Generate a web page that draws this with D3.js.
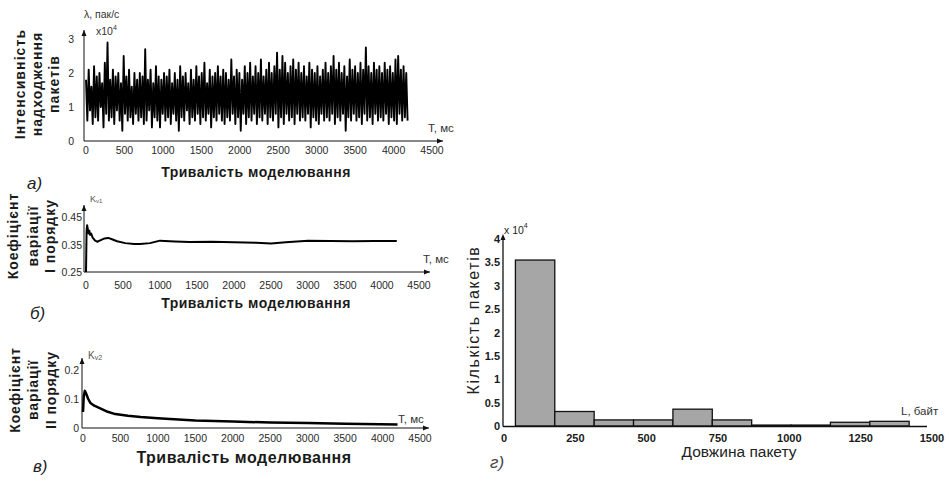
<!DOCTYPE html>
<html>
<head>
<meta charset="utf-8">
<script src="https://cdn.jsdelivr.net/npm/d3@7/dist/d3.min.js"></script>
<style>
  html, body { margin: 0; padding: 0; background: #fff; }
  svg { display: block; font-family: "Liberation Sans", Arial, sans-serif; }
</style>
</head>
<body>
<svg id="chart" width="949" height="483"></svg>
<script>
// ---------------- DATA ----------------
// (a) packet arrival intensity, x10^4 packets/s, sampled every 17.5 ms (0 .. 4200 ms)
const intensityStepMs = 17.5;
const intensity = [
  1.8,0.6,2.1,0.9,1.6,0.5,2.2,0.7,1.9,0.6,2.0,1.0,1.7,0.4,2.3,0.8,2.9,0.6,1.8,0.7,
  2.1,0.5,1.9,0.9,2.0,0.6,1.7,0.3,2.5,0.8,1.9,0.6,2.1,0.7,1.6,0.5,2.0,0.8,1.8,0.6,
  2.0,0.7,1.9,0.5,2.7,0.6,1.8,0.9,2.1,0.4,1.7,0.7,2.2,0.6,1.9,0.4,1.8,0.8,2.0,0.6,
  1.9,0.7,2.1,0.5,1.7,0.8,2.0,0.6,1.8,0.3,2.2,0.7,1.9,0.6,2.0,0.9,1.7,0.5,2.1,0.7,
  1.8,0.6,2.2,0.8,1.9,0.5,2.0,0.7,2.3,0.6,1.7,0.8,2.1,0.4,1.9,0.7,2.0,0.6,2.2,0.8,
  1.9,0.6,2.1,0.5,2.0,0.7,1.8,0.6,2.4,0.8,1.9,0.5,2.1,0.7,2.0,0.3,1.8,0.8,2.2,0.5,
  2.0,0.7,2.3,0.6,1.9,0.8,2.2,0.5,2.0,0.7,2.4,0.6,1.9,0.8,2.1,0.5,2.3,0.7,2.0,0.6,
  2.2,0.8,2.6,0.4,2.1,0.7,2.5,0.5,2.3,0.8,2.0,0.6,2.2,0.7,2.4,0.5,2.1,0.8,2.3,0.6,
  2.0,0.7,2.2,0.6,1.9,0.8,2.3,0.4,2.1,0.7,2.0,0.6,2.2,0.5,1.9,0.8,2.1,0.6,2.3,0.7,
  2.0,0.6,2.2,0.8,2.5,0.5,2.1,0.7,2.3,0.6,2.0,0.8,2.2,0.3,1.9,0.7,2.4,0.6,2.1,0.8,
  2.2,0.6,2.0,0.7,2.3,0.5,2.1,0.8,2.75,0.6,2.2,0.7,2.0,0.5,2.3,0.8,2.1,0.6,2.2,0.7,
  2.0,0.6,2.3,0.8,2.1,0.5,2.2,0.7,2.0,0.6,2.4,0.5,2.5,0.8,2.1,0.6,2.2,0.7,2.0,0.6
];
const intensityYTicks = [0, 1, 2, 3];

// (b) coefficient of variation, 1st order
const kv1Time = [0, 8, 15, 25, 35, 45, 55, 70, 90, 120, 150, 200, 250, 300, 360, 420, 530, 650, 730, 865, 1000, 1200, 1400, 1700, 2000, 2300, 2500, 2700, 3000, 3300, 3600, 3900, 4200];
const kv1Vals = [0.25, 0.40, 0.42, 0.405, 0.39, 0.40, 0.385, 0.39, 0.375, 0.365, 0.36, 0.366, 0.372, 0.374, 0.368, 0.362, 0.355, 0.352, 0.352, 0.355, 0.364, 0.361, 0.359, 0.36, 0.358, 0.356, 0.354, 0.358, 0.364, 0.363, 0.362, 0.363, 0.363];
const kv1YTicks = [0.25, 0.35, 0.45];

// (c) coefficient of variation, 2nd order
const kv2Time = [0, 10, 25, 40, 70, 100, 150, 230, 330, 430, 600, 770, 1000, 1160, 1500, 2000, 2500, 3000, 3500, 4200];
const kv2Vals = [0.055, 0.11, 0.128, 0.12, 0.1, 0.086, 0.077, 0.068, 0.056, 0.048, 0.042, 0.038, 0.034, 0.031, 0.026, 0.022, 0.019, 0.017, 0.015, 0.012];
const kv2YTicks = [0, 0.1, 0.2];

const timeTicks = [0, 500, 1000, 1500, 2000, 2500, 3000, 3500, 4000, 4500];

// (d) histogram of packet length, counts x10^4
const binEdges = [40, 178, 316, 454, 592, 730, 868, 1006, 1144, 1282, 1420];
const binCounts = [3.55, 0.31, 0.13, 0.13, 0.36, 0.13, 0.02, 0.02, 0.08, 0.10];
const lengthTicks = [0, 250, 500, 750, 1000, 1250, 1500];
const countTicks = [0, 0.5, 1, 1.5, 2, 2.5, 3, 3.5, 4];

// ---------------- DRAWING ----------------
const svg = d3.select("#chart");
const INK = "#111";

function arrowUp(g, x, y) {
  g.append("path").attr("d", `M${x},${y} L${x-2.5},${y+6} L${x+2.5},${y+6} Z`).attr("fill", INK);
}
function arrowRight(g, x, y) {
  g.append("path").attr("d", `M${x},${y} L${x-6},${y-2.5} L${x-6},${y+2.5} Z`).attr("fill", INK);
}
function rotatedLines(g, lines, xs, cy, size, ls) {
  lines.forEach((t, i) => {
    g.append("text").attr("transform", `translate(${xs[i]},${cy}) rotate(-90)`)
      .attr("text-anchor", "middle").attr("dominant-baseline", "central")
      .attr("font-size", size).attr("font-weight", "bold").attr("letter-spacing", ls)
      .attr("fill", "#1a1a1a").text(t);
  });
}

function timePanel(cfg) {
  const g = svg.append("g");
  const x = d3.scaleLinear().domain([0, 4500]).range(cfg.xr);
  const y = d3.scaleLinear().domain(cfg.yd).range(cfg.yr);
  const x0 = cfg.axisX, y0 = cfg.yr[0];
  g.append("line").attr("x1", x0).attr("x2", cfg.xEnd).attr("y1", y0).attr("y2", y0).attr("stroke", INK).attr("stroke-width", 1);
  arrowRight(g, cfg.xEnd, y0);
  g.append("line").attr("x1", x0).attr("x2", x0).attr("y1", y0).attr("y2", cfg.yTop).attr("stroke", INK).attr("stroke-width", 1);
  arrowUp(g, x0, cfg.yTop);
  g.selectAll(".xt").data(timeTicks).join("text")
    .attr("x", d => x(d)).attr("y", y0 + cfg.xLabOff).attr("text-anchor", "middle")
    .attr("dominant-baseline", "central").attr("font-size", 10.5).attr("fill", "#2a2a2a").text(d => d);
  g.selectAll(".yt").data(cfg.yTicks).join("text")
    .attr("x", cfg.yLabX).attr("y", d => y(d)).attr("text-anchor", "end")
    .attr("dominant-baseline", "central").attr("font-size", 10.5).attr("fill", "#2a2a2a").text(d => d);
  g.append("path").datum(cfg.points)
    .attr("d", d3.line().x(d => x(d[0])).y(d => y(d[1])))
    .attr("fill", "none").attr("stroke", "#000").attr("stroke-width", cfg.sw).attr("stroke-linejoin", "round");
  g.append("text").attr("x", cfg.tLab[0]).attr("y", cfg.tLab[1]).attr("dominant-baseline", "central")
    .attr("font-size", 11.5).attr("fill", "#333").text("T, мс");
  g.append("text").attr("x", cfg.title[0]).attr("y", cfg.title[1]).attr("text-anchor", "middle")
    .attr("dominant-baseline", "central").attr("font-size", cfg.titleSize).attr("font-weight", "bold")
    .attr("letter-spacing", 0.5).attr("fill", "#1a1a1a").text("Тривалість моделювання");
  g.append("text").attr("x", cfg.letter[0]).attr("y", cfg.letter[1]).attr("dominant-baseline", "central")
    .attr("font-size", 17).attr("font-style", "italic").attr("fill", "#222").text(cfg.letterText);
  rotatedLines(g, cfg.yTitle, cfg.yTitleX, cfg.yTitleCy, cfg.yTitleSize, cfg.yTitleLs);
  return g;
}

// (a)
const gA = timePanel({
  xr: [86, 432], yd: [0, 3], yr: [141, 39], axisX: 84, xEnd: 443, yTop: 30,
  xLabOff: 9, yLabX: 74, yTicks: intensityYTicks, sw: 1.9,
  points: intensity.map((v, i) => [i * intensityStepMs, v]),
  tLab: [428, 128], title: [256, 172], titleSize: 14, letter: [27, 183], letterText: "а)",
  yTitle: ["Інтенсивність", "надходження", "пакетів"], yTitleX: [20, 37, 54], yTitleCy: 84, yTitleSize: 14, yTitleLs: 1.1
});
gA.append("text").attr("x", 84).attr("y", 14).attr("dominant-baseline", "central")
  .attr("font-size", 10.5).attr("fill", "#333").text("λ, пак/с");
gA.append("text").attr("x", 96).attr("y", 31).attr("dominant-baseline", "central")
  .attr("font-size", 10.5).attr("fill", "#333")
  .call(t => { t.append("tspan").text("x10"); t.append("tspan").attr("dy", -4).attr("font-size", 7).text("4"); });

// (b)
const gB = timePanel({
  xr: [86, 419], yd: [0.25, 0.45], yr: [272, 217], axisX: 84, xEnd: 430, yTop: 205,
  xLabOff: 13, yLabX: 82, yTicks: kv1YTicks, sw: 2,
  points: kv1Time.map((t, i) => [t, kv1Vals[i]]),
  tLab: [423, 259], title: [256, 303], titleSize: 14, letter: [30, 313], letterText: "б)",
  yTitle: ["Коефіцієнт", "варіації", "І порядку"], yTitleX: [13, 33, 50], yTitleCy: 236, yTitleSize: 14, yTitleLs: 1
});
gB.append("text").attr("x", 90).attr("y", 199).attr("dominant-baseline", "central")
  .attr("font-size", 9).attr("fill", "#555")
  .call(t => { t.append("tspan").text("K"); t.append("tspan").attr("font-size", 6).attr("dy", 2).text("v1"); });

// (c)
const gC = timePanel({
  xr: [83, 420], yd: [0, 0.2], yr: [428, 370], axisX: 82, xEnd: 429, yTop: 358,
  xLabOff: 10, yLabX: 79, yTicks: kv2YTicks, sw: 2.5,
  points: kv2Time.map((t, i) => [t, kv2Vals[i]]),
  tLab: [398, 419], title: [244, 457], titleSize: 16, letter: [33, 466], letterText: "в)",
  yTitle: ["Коефіцієнт", "варіації", "ІІ порядку"], yTitleX: [15, 33, 51], yTitleCy: 390, yTitleSize: 14, yTitleLs: 0.9
});
gC.append("text").attr("x", 88).attr("y", 355).attr("dominant-baseline", "central")
  .attr("font-size", 10).attr("fill", "#555")
  .call(t => { t.append("tspan").text("K"); t.append("tspan").attr("font-size", 7).attr("dy", 2).text("v2"); });

// (d) histogram
const gD = svg.append("g");
const hx = d3.scaleLinear().domain([0, 1500]).range([504, 932]);
const hy = d3.scaleLinear().domain([0, 4]).range([426, 239]);
gD.selectAll("rect").data(binCounts).join("rect")
  .attr("x", (d, i) => hx(binEdges[i])).attr("width", (d, i) => hx(binEdges[i + 1]) - hx(binEdges[i]))
  .attr("y", d => hy(d)).attr("height", d => hy(0) - hy(d))
  .attr("fill", "#a6a6a6").attr("stroke", "#111").attr("stroke-width", 1.3);
gD.append("line").attr("x1", 503).attr("x2", 927).attr("y1", 426.5).attr("y2", 426.5).attr("stroke", INK).attr("stroke-width", 1.5);
gD.append("line").attr("x1", 503).attr("x2", 503).attr("y1", 426.5).attr("y2", 237).attr("stroke", INK).attr("stroke-width", 1.3);
arrowUp(gD, 503, 234);
gD.selectAll(".xt").data(lengthTicks).join("text")
  .attr("x", d => hx(d)).attr("y", 438).attr("text-anchor", "middle").attr("dominant-baseline", "central")
  .attr("font-size", 11).attr("font-weight", "bold").attr("fill", "#1a1a1a").text(d => d);
gD.selectAll(".yt").data(countTicks).join("text")
  .attr("x", 500).attr("y", d => hy(d)).attr("text-anchor", "end").attr("dominant-baseline", "central")
  .attr("font-size", 11).attr("font-weight", "bold").attr("fill", "#1a1a1a").text(d => d);
gD.append("text").attr("x", 504).attr("y", 230).attr("dominant-baseline", "central")
  .attr("font-size", 10.5).attr("fill", "#222")
  .call(t => { t.append("tspan").text("x 10"); t.append("tspan").attr("dy", -5).attr("font-size", 7).text("4"); });
gD.append("text").attr("transform", "translate(473,320) rotate(-90)").attr("text-anchor", "middle")
  .attr("dominant-baseline", "central").attr("font-size", 16).attr("letter-spacing", 1.6)
  .attr("fill", "#222").text("Кількість пакетів");
gD.append("text").attr("x", 739).attr("y", 451).attr("text-anchor", "middle").attr("dominant-baseline", "central")
  .attr("font-size", 15.5).attr("fill", "#222").text("Довжина пакету");
gD.append("text").attr("x", 901).attr("y", 411).attr("dominant-baseline", "central")
  .attr("font-size", 11.5).attr("fill", "#333").text("L, байт");
gD.append("text").attr("x", 490).attr("y", 462).attr("dominant-baseline", "central")
  .attr("font-size", 17).attr("font-style", "italic").attr("fill", "#444").text("г)");
</script>
</body>
</html>
